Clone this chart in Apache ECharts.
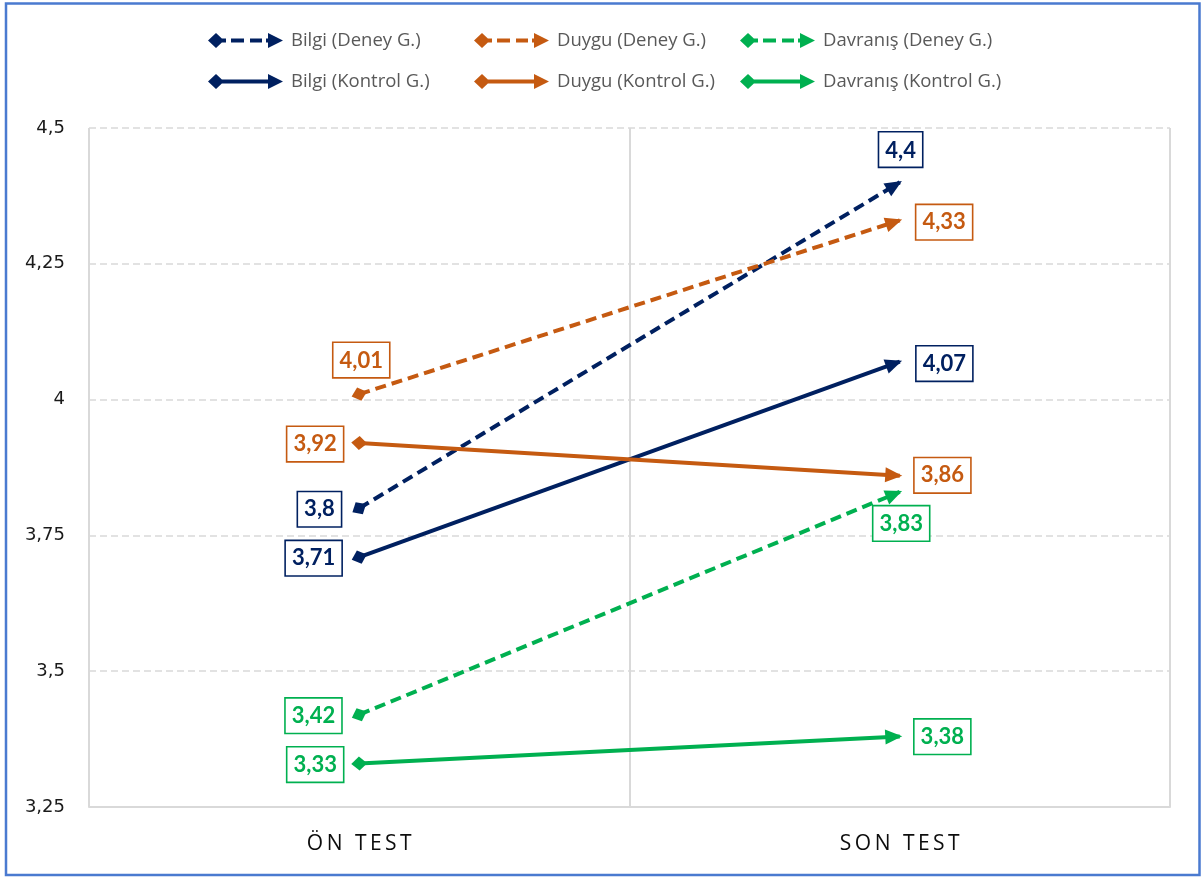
<!DOCTYPE html>
<html>
<head>
<meta charset="utf-8">
<title>Ön test / Son test</title>
<script src="https://cdn.jsdelivr.net/npm/echarts@6/dist/echarts.min.js"></script>
<style>
  html, body { margin: 0; padding: 0; background: #ffffff; }
  #chart { width: 1202px; height: 878px; }
</style>
</head>
<body>
<div id="chart"></div>
<script>
// Test phases on the category axis
const categories = ['ÖN TEST', 'SON TEST'];

// Mean scores per dimension and group (ön test, son test)
const seriesNames = [
  'Bilgi (Deney G.)', 'Duygu (Deney G.)', 'Davranış (Deney G.)',
  'Bilgi (Kontrol G.)', 'Duygu (Kontrol G.)', 'Davranış (Kontrol G.)'
];
const bilgiDeney = [3.8, 4.4];
const duyguDeney = [4.01, 4.33];
const davranisDeney = [3.42, 3.83];
const bilgiKontrol = [3.71, 4.07];
const duyguKontrol = [3.92, 3.86];
const davranisKontrol = [3.33, 3.38];
const seriesValues = [bilgiDeney, duyguDeney, davranisDeney, bilgiKontrol, duyguKontrol, davranisKontrol];

// Value axis ticks
const yMin = 3.25, yMax = 4.5, yStep = 0.25;

// Styling
const NAVY = '#002060', ORANGE = '#C55A11', GREEN = '#00B050';
const seriesColors = [NAVY, ORANGE, GREEN, NAVY, ORANGE, GREEN];
const dashed = [true, true, true, false, false, false];
// where each value label sits relative to its point: [ön test, son test]
const labelSides = [
  ['left', 'top'], ['top', 'right'], ['left', 'bottom'],
  ['left', 'right'], ['left', 'right'], ['left', 'right']
];
// gap and nudge for each side; index 0 = diamond tail, 1 = arrow head
const sideStyle = {
  left:   [{ distance: 8,  offset: [0, 1] }, { distance: 8,  offset: [0, 1] }],
  right:  [{ distance: 12, offset: [0, 0] }, { distance: 12, offset: [0, 0] }],
  top:    [{ distance: 8,  offset: [2, 0] }, { distance: 8,  offset: [6, 0] }],
  bottom: [{ distance: 2,  offset: [7, 0] }, { distance: 2,  offset: [7, 0] }]
};

const fmt = v => String(v).replace('.', ',');

// Legend icons: diamond tail, line (dashed or solid) and arrow head
const ICON_DASHED = 'path://M0 7.5L8 0L16 7.5L8 15Z M14 5.5H18V9.5H14Z M23 5.5H36V9.5H23Z M42 5.5H54V9.5H42Z M58 5.5H62V9.5H58Z M60 0L75 7.5L60 15Z';
const ICON_SOLID = 'path://M0 7.5L8 0L16 7.5L8 15Z M14 5.5H62V9.5H14Z M60 0L75 7.5L60 15Z';

const legendColumns = [0, 1, 2].map(c => ({
  orient: 'vertical',
  left: [208, 474, 740][c],
  top: 31,
  padding: 0,
  itemWidth: 75,
  itemHeight: 15,
  itemGap: 22,
  selectedMode: false,
  textStyle: { color: '#595959', fontSize: 18.5, fontFamily: 'Open Sans', padding: [0, 0, 0, 3] },
  data: [
    { name: seriesNames[c], icon: ICON_DASHED },
    { name: seriesNames[c + 3], icon: ICON_SOLID }
  ]
}));

function labelFor(i, j) {
  const side = labelSides[i][j];
  const s = sideStyle[side][j];
  return {
    show: true,
    position: side,
    distance: s.distance,
    offset: s.offset,
    formatter: p => fmt(p.value),
    color: seriesColors[i],
    fontFamily: 'Lato',
    fontWeight: 'bold',
    fontSize: 22,
    lineHeight: 24,
    backgroundColor: '#ffffff',
    borderColor: seriesColors[i],
    borderWidth: 1.6,
    borderRadius: 0,
    padding: [6, 6, 4, 6]
  };
}

function buildSeries(decor) {
  return seriesNames.map((name, i) => {
    const vals = seriesValues[i];
    const d = decor ? decor[i] : { deg: 0, ux: 1, uy: 0 };
    return {
      name: name,
      type: 'line',
      z: 2 + i,
      color: seriesColors[i],
      lineStyle: {
        color: seriesColors[i],
        width: 4,
        type: dashed[i] ? [11, 6] : 'solid',
        cap: 'butt'
      },
      itemStyle: { color: seriesColors[i] },
      emphasis: { disabled: true },
      animation: false,
      data: [
        {
          value: vals[0],
          symbol: 'diamond',
          symbolSize: [16, 14],
          symbolRotate: d.deg,
          label: labelFor(i, 0)
        },
        {
          value: vals[1],
          symbol: 'triangle',
          symbolSize: [15, 17],
          symbolRotate: d.deg - 90,
          symbolOffset: [-d.ux * 6, -d.uy * 6],
          label: labelFor(i, 1)
        }
      ]
    };
  });
}

const chart = echarts.init(document.getElementById('chart'), null, { renderer: 'canvas' });

chart.setOption({
  backgroundColor: '#ffffff',
  animation: false,
  legend: legendColumns,
  grid: { left: 89, right: 32, top: 128, bottom: 71, containLabel: false },
  xAxis: {
    type: 'category',
    data: categories,
    boundaryGap: true,
    axisLine: { show: true, lineStyle: { color: '#D9D9D9', width: 2 } },
    axisTick: { show: false },
    splitLine: { show: true, lineStyle: { color: '#D9D9D9', width: 2 } },
    axisLabel: {
      margin: 27,
      color: '#0d0d0d',
      fontFamily: 'Open Sans',
      fontSize: 21,
      formatter: name => name.split('').join('\u2009')
    }
  },
  yAxis: {
    type: 'value',
    min: yMin,
    max: yMax,
    interval: yStep,
    axisLine: { show: false },
    axisTick: { show: false },
    splitLine: { show: true, lineStyle: { color: '#D9D9D9', width: 1.5, type: [7, 4] } },
    axisLabel: {
      margin: 24,
      color: '#1a1a1a',
      fontFamily: 'DejaVu Sans',
      fontSize: 18,
      padding: [6, 0, 0, 0],
      formatter: v => fmt(v)
    }
  },
  graphic: [{
    type: 'rect',
    silent: true,
    z: 100,
    shape: { x: 6, y: 3.5, width: 1193.5, height: 871.5 },
    style: { fill: 'none', stroke: '#4A7AD0', lineWidth: 2.5 }
  }],
  series: buildSeries(null)
});

// Orient the diamond tails and arrow heads along each segment
const decor = seriesValues.map((vals, i) => {
  const p0 = chart.convertToPixel({ seriesIndex: i }, [0, vals[0]]);
  const p1 = chart.convertToPixel({ seriesIndex: i }, [1, vals[1]]);
  const dx = p1[0] - p0[0], dy = p1[1] - p0[1];
  const len = Math.hypot(dx, dy) || 1;
  return { deg: Math.atan2(-dy, dx) * 180 / Math.PI, ux: dx / len, uy: dy / len };
});
chart.setOption({ series: buildSeries(decor) });
</script>
</body>
</html>
